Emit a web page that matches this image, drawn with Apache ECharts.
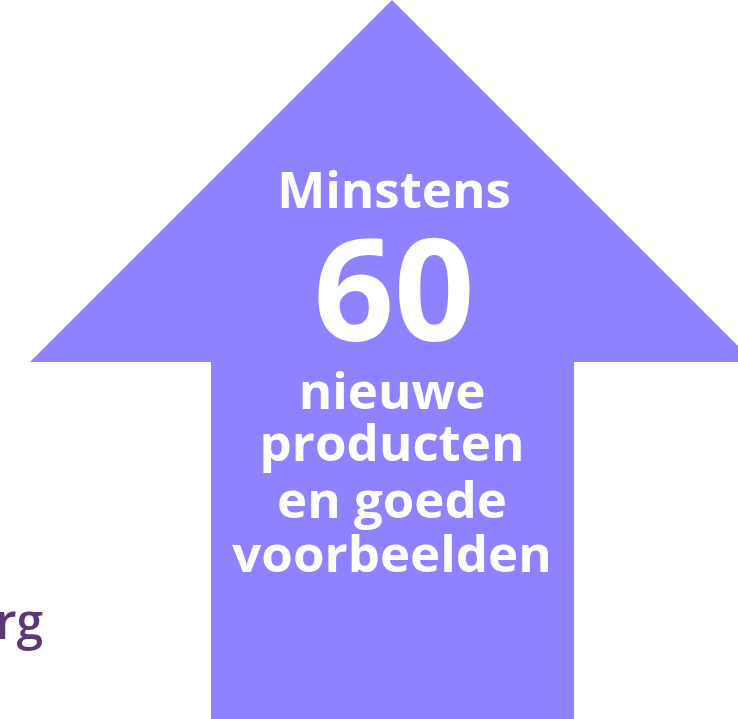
<!DOCTYPE html>
<html>
<head>
<meta charset="utf-8">
<script src="https://cdn.jsdelivr.net/npm/echarts@6/dist/echarts.min.js"></script>
<style>html,body{margin:0;padding:0;background:#fff;}#c{width:738px;height:719px;}</style>
</head>
<body>
<div id="c"></div>
<script>
// Content of the infographic
const headline = 'Minstens';
const bigValue = 60;
const bodyLines = ['nieuwe', 'producten', 'en goede', 'voorbeelden'];
const sideText = 'rg';
// Arrow outline in canvas units (x, y)
const arrowX = [392, 754, 574, 574, 211, 211, 30];
const arrowY = [0, 362, 362, 740, 740, 362, 362];

const arrowColor = '#8E82FE';
const chart = echarts.init(document.getElementById('c'));
const FONT = '"Open Sans", sans-serif';
const ASC = 0.76; // baseline offset from top for this font

const arrowData = arrowX.map((x, i) => [x, arrowY[i]]);

const texts = [
  {text: headline, x: 394, y: 207, size: 51},
  {text: String(bigValue), x: 394, y: 337, size: 141},
];
const lineBase = [408, 460, 517, 571];
bodyLines.forEach((t, i) => texts.push({text: t, x: 392, y: lineBase[i], size: 51}));

chart.setOption({
  animation: false,
  grid: {left: 0, right: 0, top: 0, bottom: 0},
  xAxis: {type: 'value', min: 0, max: 738, show: false},
  yAxis: {type: 'value', min: 0, max: 719, inverse: true, show: false},
  series: [{
    type: 'custom',
    coordinateSystem: 'cartesian2d',
    data: [0],
    clip: true,
    renderItem: function (params, api) {
      const pts = arrowData.map(p => api.coord(p));
      const children = [{
        type: 'polygon',
        shape: {points: pts},
        style: {fill: arrowColor}
      }];
      texts.forEach(t => {
        const c = api.coord([t.x, t.y - ASC * t.size]);
        children.push({
          type: 'text',
          x: c[0], y: c[1],
          style: {
            text: t.text, fill: '#ffffff',
            font: '700 ' + t.size + 'px ' + FONT,
            textAlign: 'center', textVerticalAlign: 'top'
          }
        });
      });
      const s = api.coord([43, 638 - ASC * 48]);
      children.push({
        type: 'text', x: s[0], y: s[1],
        style: {text: sideText, fill: '#5B3876', font: '600 48px ' + FONT, textAlign: 'right', textVerticalAlign: 'top'}
      });
      return {type: 'group', children: children};
    }
  }]
});
</script>
</body>
</html>
